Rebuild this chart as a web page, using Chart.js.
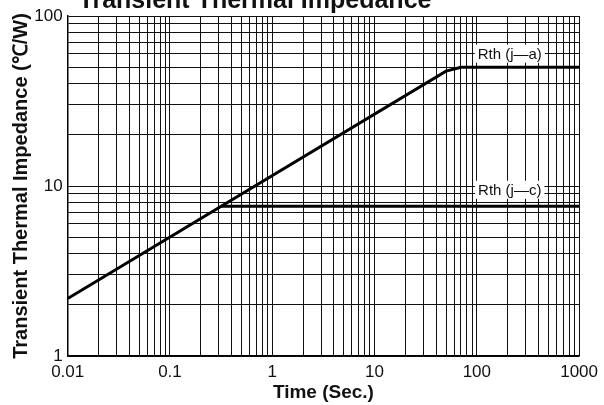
<!DOCTYPE html>
<html><head><meta charset="utf-8">
<script src="https://cdn.jsdelivr.net/npm/chart.js@4"></script>
<style>html,body{margin:0;padding:0;background:#fff}#wrap{width:604px;height:405px}</style>
</head><body><div id="wrap"><canvas id="c" width="604" height="405"></canvas></div>
<script>
const timeJA = [0.01, 50, 70, 1000];
const rthJA = [2.18, 47.4, 50, 50];
const timeJC = [0.315, 1000];
const rthJC = [7.6, 7.6];
const xDecades = [0.01, 0.1, 1, 10, 100, 1000];
const xTickLabels = ['0.01', '0.1', '1', '10', '100', '1000'];
const yDecades = [1, 10, 100];
const yTickLabels = ['1', '10', '100'];
const curveLabels = ['Rth (j\u2014a)', 'Rth (j\u2014c)'];
const curveLabelTime = [210, 210];
const curveLabelRth = [60, 9.5];
const chartTitle = 'Transient Thermal Impedance';
const FONT = "'Liberation Sans', Arial, Helvetica, sans-serif";

function gridValues(decades) {
  const v = [];
  for (let i = 0; i < decades.length - 1; i++) {
    for (let k = 1; k < 10; k++) v.push(+(decades[i] * k).toPrecision(3));
  }
  v.push(decades[decades.length - 1]);
  return v;
}

const overlay = {
  id: 'overlay',
  afterDatasetsDraw(chart) {
    const ctx = chart.ctx, xs = chart.scales.x, ys = chart.scales.y;
    ctx.save();
    ctx.font = '15px ' + FONT;
    ctx.textAlign = 'center';
    ctx.textBaseline = 'middle';
    curveLabels.forEach((t, i) => {
      const px = xs.getPixelForValue(curveLabelTime[i]);
      const py = ys.getPixelForValue(curveLabelRth[i]);
      const w = ctx.measureText(t).width;
      ctx.fillStyle = '#fff';
      ctx.fillRect(px - w / 2 - 3, py - 9, w + 6, 18);
      ctx.fillStyle = '#111';
      ctx.fillText(t, px, py + 1);
    });
    ctx.restore();
  },
  afterDraw(chart) {
    const ctx = chart.ctx;
    ctx.save();
    ctx.font = 'bold 25px ' + FONT;
    ctx.textAlign = 'center';
    ctx.textBaseline = 'alphabetic';
    ctx.fillStyle = '#111';
    ctx.fillText(chartTitle, 255, 8);
    ctx.restore();
  }
};

new Chart(document.getElementById('c').getContext('2d'), {
  type: 'line',
  data: {
    datasets: [
      { data: timeJA.map((t, i) => ({ x: t, y: rthJA[i] })), borderColor: '#000', borderWidth: 3, pointRadius: 0, tension: 0, fill: false },
      { data: timeJC.map((t, i) => ({ x: t, y: rthJC[i] })), borderColor: '#000', borderWidth: 3, pointRadius: 0, tension: 0, fill: false }
    ]
  },
  options: {
    responsive: false,
    animation: false,
    layout: { padding: { left: 0, right: 22, top: 16, bottom: 0 } },
    plugins: { legend: { display: false }, tooltip: { enabled: false }, title: { display: false } },
    scales: {
      x: {
        type: 'logarithmic', min: 0.01, max: 1000,
        afterBuildTicks: s => { s.ticks = gridValues(xDecades).map(v => ({ value: v })); },
        afterFit: s => { s.height = 49; },
        ticks: {
          autoSkip: false, maxRotation: 0, minRotation: 0, padding: 6, color: '#111',
          font: { family: FONT, size: 17 },
          callback: v => { const i = xDecades.indexOf(v); return i >= 0 ? xTickLabels[i] : ''; }
        },
        grid: { color: '#111', lineWidth: 1, drawTicks: false },
        border: { color: '#000', width: 1.5 },
        title: { display: true, text: 'Time (Sec.)', color: '#111', font: { family: FONT, size: 19, weight: 'bold' }, padding: { top: 0, bottom: 1 } }
      },
      y: {
        type: 'logarithmic', min: 1, max: 100,
        afterBuildTicks: s => { s.ticks = gridValues(yDecades).map(v => ({ value: v })); },
        afterFit: s => { s.width = 67.7; },
        ticks: {
          autoSkip: false, padding: 5, color: '#111',
          font: { family: FONT, size: 17 },
          callback: v => { const i = yDecades.indexOf(v); return i >= 0 ? yTickLabels[i] : ''; }
        },
        grid: { color: '#111', lineWidth: 1, drawTicks: false },
        border: { color: '#000', width: 1.5 },
        title: { display: true, text: 'Transient Thermal Impedance (\u2103/W)', color: '#111', font: { family: FONT, size: 20, weight: 'bold' }, padding: { top: 9, bottom: 0 } }
      }
    }
  },
  plugins: [overlay]
});
</script>
</body></html>
